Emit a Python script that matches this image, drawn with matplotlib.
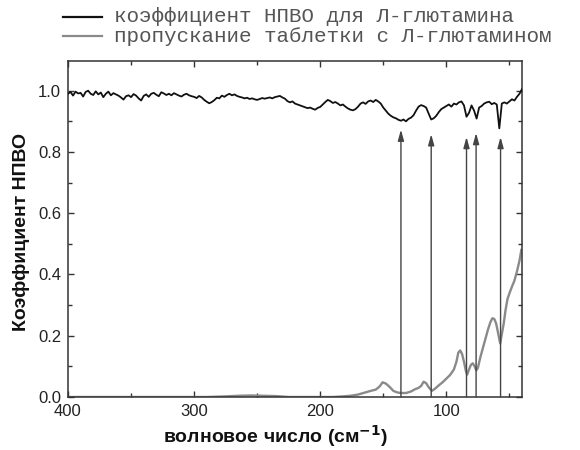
import numpy as np
import matplotlib
matplotlib.use("Agg")
import matplotlib.pyplot as plt
from matplotlib.lines import Line2D
from matplotlib.ticker import MultipleLocator

# ---------------- data ----------------
# ATR coefficient of L-glutamine (black), sampled every 2 cm-1 from 400 to 40
atr_x = np.arange(400, 39, -2)
atr_y = [
    0.990, 0.996, 0.984, 0.997, 0.991, 0.993, 0.981, 0.996, 1.000, 0.990,
    0.986, 0.998, 0.988, 0.994, 0.979, 0.990, 0.997, 0.985, 0.992, 0.988,
    0.984, 0.978, 0.971, 0.982, 0.985, 0.979, 0.989, 0.984, 0.975, 0.968,
    0.983, 0.988, 0.980, 0.990, 0.993, 0.987, 0.982, 0.995, 0.991, 0.986,
    0.990, 0.985, 0.992, 0.988, 0.984, 0.981, 0.987, 0.990, 0.985, 0.982,
    0.980, 0.976, 0.983, 0.978, 0.970, 0.964, 0.959, 0.963, 0.969, 0.977,
    0.975, 0.984, 0.980, 0.986, 0.990, 0.985, 0.988, 0.983, 0.980, 0.978,
    0.975, 0.977, 0.973, 0.975, 0.972, 0.970, 0.973, 0.976, 0.974, 0.976,
    0.978, 0.975, 0.979, 0.981, 0.983, 0.978, 0.974, 0.966, 0.962, 0.965,
    0.958, 0.955, 0.952, 0.949, 0.946, 0.943, 0.945, 0.941, 0.938, 0.944,
    0.947, 0.955, 0.963, 0.970, 0.966, 0.960, 0.963, 0.958, 0.952, 0.955,
    0.948, 0.942, 0.938, 0.936, 0.940, 0.948, 0.958, 0.962, 0.957, 0.965,
    0.968, 0.963, 0.970, 0.965, 0.958, 0.945, 0.935, 0.925, 0.918, 0.913,
    0.910, 0.905, 0.902, 0.906, 0.900, 0.908, 0.912, 0.920, 0.935, 0.948,
    0.953, 0.950, 0.945, 0.925, 0.906, 0.910, 0.918, 0.930, 0.940, 0.945,
    0.950, 0.955, 0.948, 0.958, 0.955, 0.962, 0.965, 0.952, 0.915, 0.928,
    0.952, 0.935, 0.909, 0.945, 0.950, 0.958, 0.962, 0.964, 0.956, 0.960,
    0.955, 0.877, 0.958, 0.962, 0.958, 0.965, 0.972, 0.968, 0.980, 0.990,
    1.005,
]

# transmission of the L-glutamine tablet (grey)
trans_x = [400, 290, 275, 265, 255, 245, 235, 225,
           190, 182, 176, 170, 165, 160, 156, 153, 150.5, 148,
           145, 142, 139, 136, 132, 128, 125, 122, 120, 118,
           116, 114, 111.5, 109, 106, 103, 100, 97, 94, 92,
           90.5, 89, 87.5, 86, 84.5, 83.5, 82, 80.5, 79, 77.5,
           76.3, 75, 73, 71, 69, 67, 65, 63.5, 62, 60.5,
           59, 57.3, 56, 54.5, 53, 51.5, 50, 48, 46, 44,
           42, 40.5]
trans_y = [0, 0, 0.002, 0.004, 0.005, 0.004, 0.003, 0,
           0, 0.002, 0.004, 0.008, 0.014, 0.020, 0.024, 0.034, 0.048, 0.044,
           0.033, 0.020, 0.015, 0.013, 0.013, 0.018, 0.025, 0.030, 0.036, 0.050,
           0.045, 0.032, 0.020, 0.027, 0.038, 0.048, 0.060, 0.072, 0.090, 0.115,
           0.145, 0.152, 0.140, 0.115, 0.085, 0.073, 0.090, 0.105, 0.110, 0.100,
           0.087, 0.095, 0.130, 0.160, 0.190, 0.220, 0.245, 0.257, 0.255, 0.240,
           0.210, 0.175, 0.205, 0.240, 0.285, 0.320, 0.338, 0.360, 0.380, 0.410,
           0.445, 0.480]

# arrows marking absorption bands
arrow_x = [136, 112, 84, 76.4, 57]
arrow_top = [0.873, 0.858, 0.849, 0.862, 0.849]

legend_labels = ["коэффициент НПВО для Л-глютамина",
                 "пропускание таблетки с Л-глютамином"]
xlabel = r"волновое число (см$^{\mathbf{-1}}$)"
ylabel = "Коэффициент НПВО"
xticks = [400, 300, 200, 100]
yticks = [0.0, 0.2, 0.4, 0.6, 0.8, 1.0]

# ---------------- plot ----------------
plt.rcParams['font.family'] = ['Liberation Sans', 'DejaVu Sans']
fig = plt.figure(figsize=(5.8, 4.5), dpi=100)
ax = fig.add_axes([68 / 580, 53 / 450, (522 - 68) / 580, (397 - 61) / 450])

ax.plot(trans_x, trans_y, color='#8a8a8a', lw=1.7, zorder=2)
ax.plot(atr_x, atr_y, color='#111111', lw=1.3, zorder=3)

for xa, ya in zip(arrow_x, arrow_top):
    ax.annotate('', xy=(xa, ya), xytext=(xa, 0),
                arrowprops=dict(arrowstyle='-|>,head_length=0.65,head_width=0.18',
                                color='#444444', lw=1.0,
                                mutation_scale=10, shrinkA=0, shrinkB=0),
                zorder=4)

ax.set_xlim(400, 40)
ax.set_ylim(0, 1.097)
ax.set_xticks(xticks)
ax.set_yticks(yticks)
ax.set_yticklabels([f"{v:.1f}" for v in yticks])
ax.xaxis.set_minor_locator(MultipleLocator(50))
ax.yaxis.set_minor_locator(MultipleLocator(0.1))
ax.tick_params(which='both', direction='in', top=True, right=True,
               color='#333333', labelsize=12, labelcolor='#222222', width=1.0)
ax.tick_params(which='major', length=4, pad=5)
ax.tick_params(which='minor', length=3)
for s in ax.spines.values():
    s.set_linewidth(1.1)
    s.set_color('#333333')

ax.set_xlabel(xlabel, fontsize=14, fontweight='bold', color='#111111')
ax.xaxis.set_label_coords(0.456, -0.078)
ax.set_ylabel(ylabel, fontsize=14, fontweight='bold', color='#111111')
ax.yaxis.set_label_coords(-0.083, 0.49)

# legend drawn manually above the axes
leg_colors = ['#111111', '#8a8a8a']
leg_widths = [1.6, 1.6]
leg_y = [1 - 17 / 450, 1 - 36 / 450]
for lab, c, w, yy in zip(legend_labels, leg_colors, leg_widths, leg_y):
    fig.add_artist(Line2D([63 / 580, 102 / 580], [yy, yy], color=c, lw=w,
                          transform=fig.transFigure))
    fig.text(114 / 580, yy, lab, family=['Liberation Mono', 'DejaVu Sans Mono'],
             fontsize=15, color='#555555', va='center', ha='left')

fig.savefig('out.png', dpi=100)
